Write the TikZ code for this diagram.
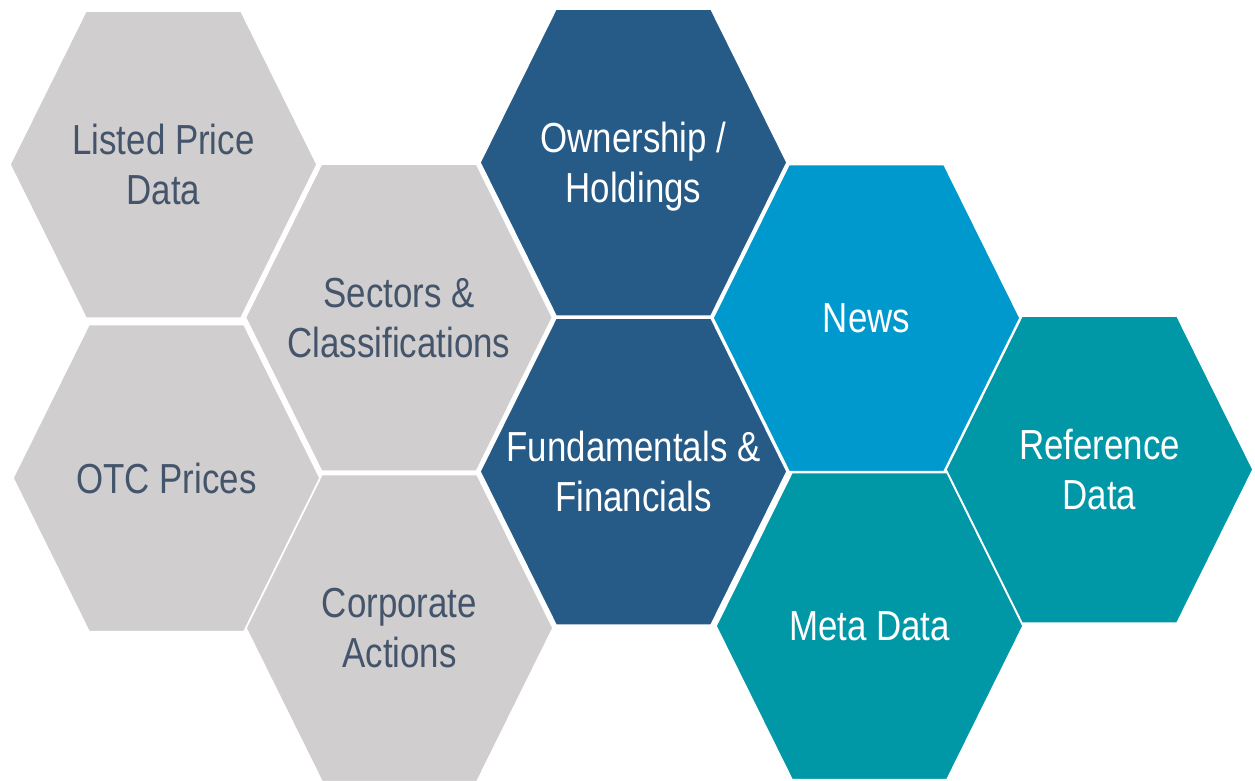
\documentclass[tikz,border=0pt]{standalone}
\usepackage{fontspec}
\setmainfont{Liberation Sans}[FakeStretch=0.83]
\definecolor{hexgray}{HTML}{D0CECF}
\definecolor{hexdark}{HTML}{265A87}
\definecolor{hexblue}{HTML}{0099CD}
\definecolor{hexteal}{HTML}{0097A7}
\definecolor{graytext}{HTML}{44546A}
\tikzset{
  hexlabel/.style={align=center, anchor=center, text depth=0pt, inner sep=0pt,
    font=\fontsize{42}{50}\selectfont},
  hexshape/.style={draw=white, line width=1.5pt, line join=miter}
}
% name, x, y, fill, text colour, text
\newcommand\hexcell[6]{%
  \filldraw[hexshape, fill=#4]
    (#2-153.5,#3) -- (#2-77.5,#3+153.5) -- (#2+77.5,#3+153.5) --
    (#2+153.5,#3) -- (#2+77.5,#3-153.5) -- (#2-77.5,#3-153.5) -- cycle;
  \node[hexlabel, text=#5] (#1) at (#2,#3) {#6};
}
\begin{document}
\begin{tikzpicture}[x=1pt,y=1pt]
\useasboundingbox (0,0) rectangle (1255,-780);
\hexcell{listed}{163.5}{-164.5}{hexgray}{graytext}{Listed Price\\Data}
\hexcell{otc}{166.5}{-478}{hexgray}{graytext}{OTC Prices}
\hexcell{sectors}{399}{-317.5}{hexgray}{graytext}{Sectors \&\\Classifications}
\hexcell{corporate}{399.5}{-628}{hexgray}{graytext}{Corporate\\Actions}
\hexcell{ownership}{633.5}{-162.5}{hexdark}{white}{Ownership /\\Holdings}
\hexcell{fundamentals}{633.5}{-471.5}{hexdark}{white}{Fundamentals \&\\Financials}
\hexcell{news}{866.5}{-318}{hexblue}{white}{News}
\hexcell{meta}{869.5}{-626}{hexteal}{white}{Meta Data}
\hexcell{reference}{1099.5}{-469.5}{hexteal}{white}{Reference\\Data}
\end{tikzpicture}
\end{document}
